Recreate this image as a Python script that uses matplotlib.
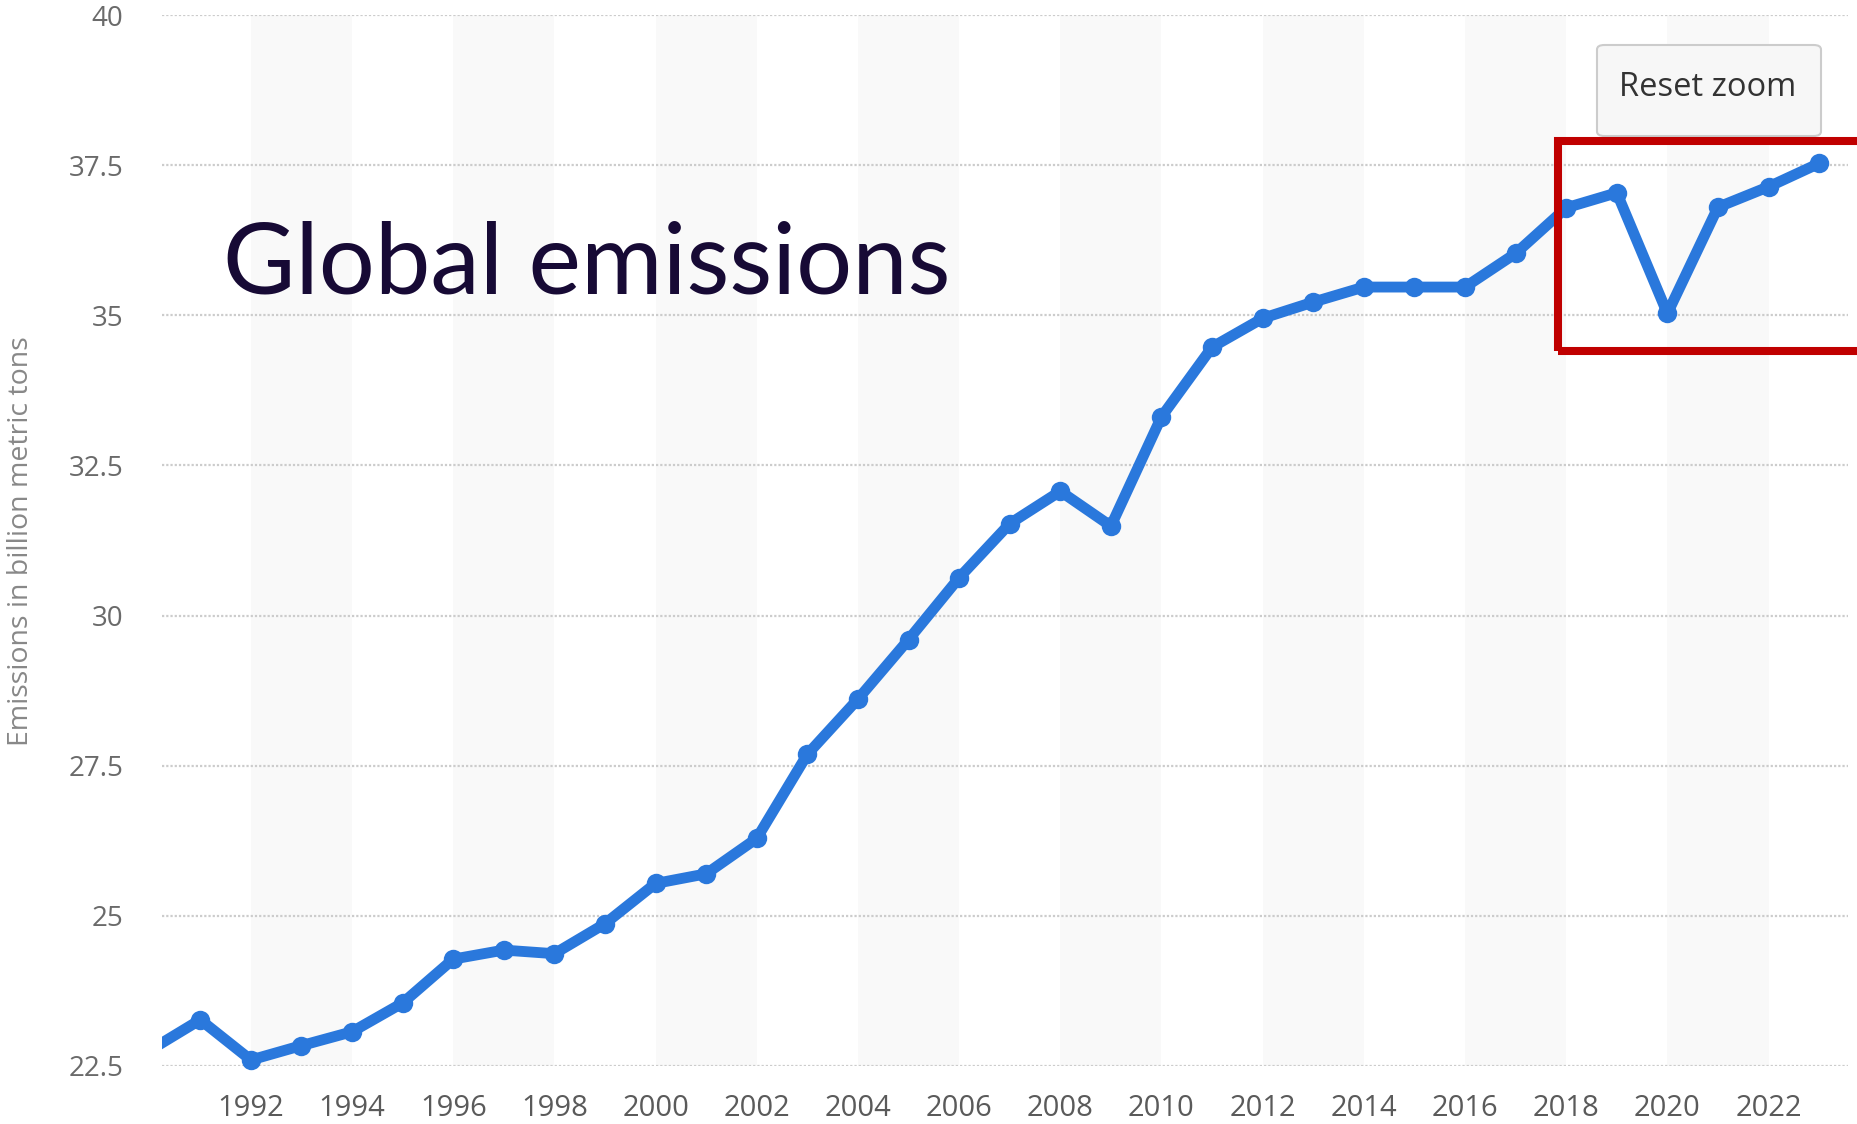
import matplotlib
matplotlib.use("Agg")
import matplotlib.pyplot as plt
from matplotlib.patches import Rectangle, FancyBboxPatch

# Global CO2 emissions, billion metric tons
years = list(range(1990, 2024))
emissions = [22.76, 23.27, 22.60, 22.84, 23.07, 23.55, 24.28, 24.43, 24.37, 24.87,
             25.54, 25.70, 26.29, 27.69, 28.61, 29.60, 30.63, 31.53, 32.07, 31.49,
             33.31, 34.47, 34.95, 35.22, 35.47, 35.47, 35.47, 36.03, 36.79, 37.04,
             35.03, 36.80, 37.14, 37.53]

x_ticks = list(range(1992, 2023, 2))
y_ticks = [22.5, 25, 27.5, 30, 32.5, 35, 37.5, 40]
y_tick_labels = ["22.5", "25", "27.5", "30", "32.5", "35", "37.5", "40"]

title_text = "Global emissions"
y_label = "Emissions in billion metric tons"
button_text = "Reset zoom"

W, H = 1858, 1124
fig = plt.figure(figsize=(W / 100, H / 100), dpi=100)
fig.patch.set_facecolor("white")

def fx(px):
    return px / W

def fy(py):
    return 1 - py / H

ax_left, ax_right, ax_top, ax_bottom = 162, 1848, 15, 1066
ax = fig.add_axes([fx(ax_left), fy(ax_bottom), fx(ax_right - ax_left), (ax_bottom - ax_top) / H])
ax.set_facecolor("white")
x_min, x_max = 1990.243, 2023.57
ax.set_xlim(x_min, x_max)
ax.set_ylim(22.5, 40)

# alternating vertical bands between every other pair of ticks
for i in range(0, len(x_ticks) - 1, 2):
    ax.axvspan(x_ticks[i], x_ticks[i + 1], color="#f9f9f9", lw=0, zorder=0)

# horizontal dotted grid
for yv in y_ticks:
    ax.axhline(yv, color="#cccccc", lw=1.6, linestyle=(0, (1.0, 0.9)), zorder=1)

blue = "#2a78dc"
ax.plot(years, emissions, color=blue, lw=7.8, solid_joinstyle="round",
        solid_capstyle="round", zorder=3)
vis = [(x, y) for x, y in zip(years, emissions) if x >= x_min]
ax.plot([p[0] for p in vis], [p[1] for p in vis], linestyle="none", marker="o",
        markersize=14, color=blue, markeredgewidth=0, clip_on=False, zorder=4)

for s in ax.spines.values():
    s.set_visible(False)

ax.set_xticks(x_ticks)
ax.set_xticklabels([str(x) for x in x_ticks], fontfamily="Open Sans", fontsize=21,
                   color="#5a5a5a")
ax.set_yticks(y_ticks)
ax.set_yticklabels(y_tick_labels, fontfamily="Open Sans", fontsize=20, color="#6a6a6a")
ax.tick_params(axis="x", length=0, pad=20)
ax.tick_params(axis="y", length=0, pad=28)

fig.text(fx(21), fy(541), y_label, rotation=90, ha="center", va="center",
         fontfamily="Open Sans", fontsize=20.5, color="#888888")

# big heading
fig.text(fx(223), fy(293), title_text, ha="left", va="baseline",
         fontfamily="Lato", fontsize=71.5, color="#170a35")

# reset-zoom button
btn = FancyBboxPatch((fx(1597), fy(136)), fx(1821 - 1597), (136 - 45) / H,
                     boxstyle="round,pad=0,rounding_size=0.004",
                     transform=fig.transFigure, facecolor="#f7f7f7",
                     edgecolor="#cccccc", lw=1.5, zorder=5)
fig.patches.append(btn)
fig.text(fx(1708), fy(87), button_text, ha="center", va="center",
         fontfamily="Open Sans", fontsize=23.5, color="#333333", zorder=6)

# highlight frame
frame = Rectangle((fx(1558), fy(351)), fx(1875 - 1558), (351 - 141.5) / H,
                  transform=fig.transFigure, facecolor="none", edgecolor="#c00000",
                  lw=5.8, zorder=7)
fig.patches.append(frame)

fig.savefig("out.png", dpi=100)
